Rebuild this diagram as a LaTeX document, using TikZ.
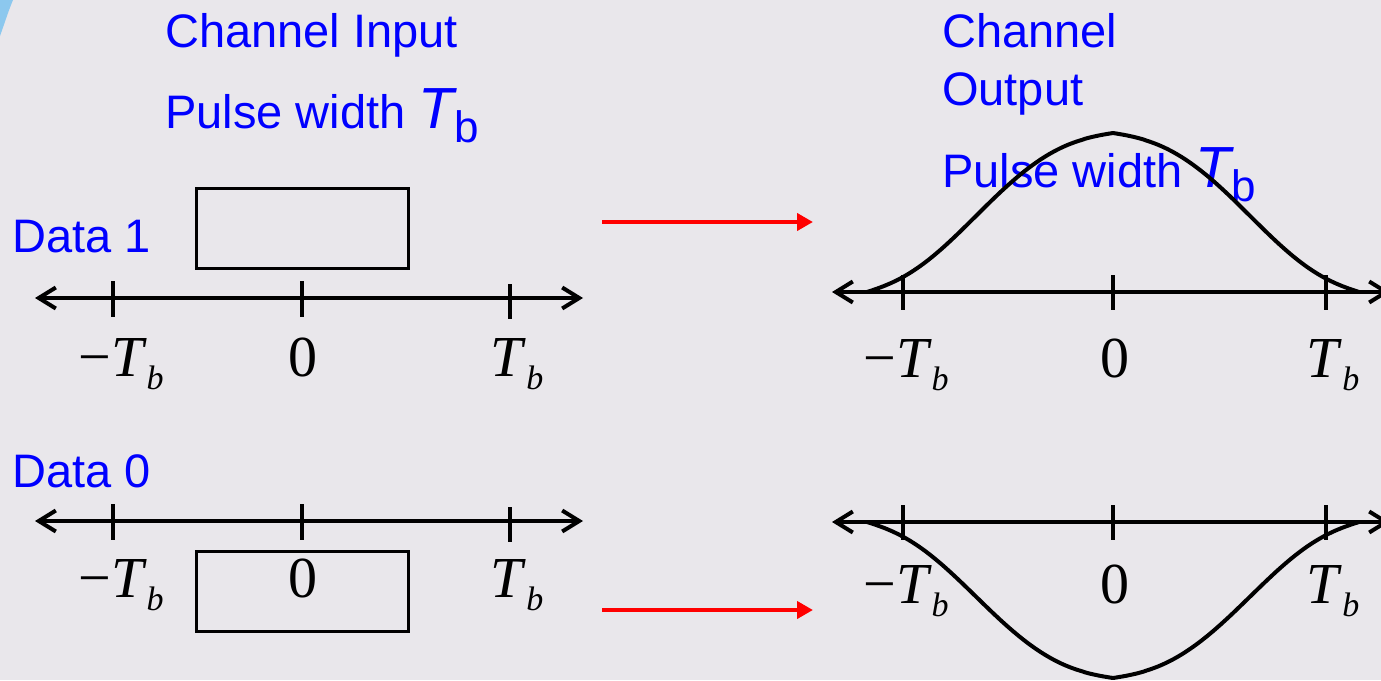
\documentclass[tikz,border=0pt]{standalone}
\usepackage{fontspec}
\setmainfont{Liberation Sans}
\newfontfamily\tms{Liberation Serif}
\usetikzlibrary{arrows.meta}
\definecolor{bg}{RGB}{233,231,235}
\definecolor{txtblue}{RGB}{0,0,255}
\definecolor{swoosh}{RGB}{140,200,238}
\newcommand{\myTb}{\textit{T}\raisebox{-0.23em}{\fontsize{34}{34}\selectfont\textit{b}}}
\newcommand{\mymTb}{−\myTb}
\newcommand{\blueTb}{{\fontsize{58}{60}\selectfont\itshape T}\raisebox{-14pt}{\fontsize{44}{50}\selectfont b}}
\def\pf{(0.5*(1+cos(180*pow(\u,1.15)))-0.25*\u*(1-\u)*(1-\u)*(1-\u)+0.5*\u*\u*\u*\u*\u*\u*(1-\u))}
\tikzset{
  bluetext/.style={text=txtblue, font=\fontsize{47}{56}\selectfont, anchor=base west, inner sep=0pt},
  axisline/.style={line width=4pt, {Straight Barb[length=17pt,width=21pt]}-{Straight Barb[length=17pt,width=21pt]}},
  tickline/.style={line width=4pt},
  pulsebox/.style={draw, line width=3pt, minimum width=212pt, minimum height=80pt, inner sep=0pt},
  wave/.style={line width=4pt, line join=round, line cap=round},
  redarrow/.style={draw=red, line width=4.5pt, -{Triangle[length=16pt,width=17pt]}},
  ticklabel/.style={font=\tms\fontsize{58}{60}\selectfont, anchor=base, inner sep=0pt},
}
\begin{document}
\begin{tikzpicture}[x=1pt,y=-1pt]
\useasboundingbox (0,0) rectangle (1381,680);
\clip (0,0) rectangle (1381,680);
\fill[bg] (0,0) rectangle (1381,680);
% swoosh
\fill[swoosh] (0,0) -- (13,0) .. controls (8,12) and (4,25) .. (0,36) -- cycle;

% texts
\node[bluetext] (cin) at (165,47) {Channel Input};
\node[bluetext] (pwl) at (165,128) {Pulse width \blueTb};
\node[bluetext] (cout1) at (942,47) {Channel};
\node[bluetext] (cout2) at (942,105) {Output};
\node[bluetext] (pwr) at (942,187) {Pulse width \blueTb};
\node[bluetext] (d1) at (12,252) {Data 1};
\node[bluetext] (d0) at (12,487) {Data 0};

% ---- top left
\coordinate (a1l) at (35,298); \coordinate (a1r) at (583,298);
\draw[axisline] (a1l) -- (a1r);
\draw[tickline] (113,281) -- (113,317);
\draw[tickline] (302,281) -- (302,317);
\draw[tickline] (510,284) -- (510,319);
\node[ticklabel] (l1a) at (121,376) {\mymTb};
\node[ticklabel] (l1b) at (303,376) {0};
\node[ticklabel] (l1c) at (517,376) {\myTb};
\node[pulsebox] (p1) at (302,228) {};

% ---- bottom left
\coordinate (a2l) at (35,521); \coordinate (a2r) at (583,521);
\draw[axisline] (a2l) -- (a2r);
\draw[tickline] (113,504) -- (113,540);
\draw[tickline] (302,504) -- (302,540);
\draw[tickline] (510,507) -- (510,542);
\node[ticklabel] (l2a) at (121,597) {\mymTb};
\node[ticklabel] (l2b) at (303,597) {0};
\node[ticklabel] (l2c) at (517,597) {\myTb};
\node[pulsebox] (p0) at (302,591) {};

% ---- red arrows
\coordinate (r1s) at (602,222); \coordinate (r1e) at (813,222);
\coordinate (r2s) at (602,610); \coordinate (r2e) at (813,610);
\draw[redarrow] (r1s) -- (r1e);
\draw[redarrow] (r2s) -- (r2e);

% ---- top right
\coordinate (a3l) at (832,292); \coordinate (a3r) at (1390,292);
\draw[axisline] (a3l) -- (a3r);
\draw[tickline] (903,275) -- (903,310);
\draw[tickline] (1113,275) -- (1113,310);
\draw[tickline] (1326,275) -- (1326,310);
\node[ticklabel] (l3a) at (906,377) {\mymTb};
\node[ticklabel] (l3b) at (1115,377) {0};
\node[ticklabel] (l3c) at (1333,377) {\myTb};
\draw[wave] plot[domain=1:0.001, samples=90, variable=\u] ({1113-246*\u},{292-159*\pf}) -- (1113,133)
  -- plot[domain=0.001:1, samples=90, variable=\u] ({1113+246*\u},{292-159*\pf});

% ---- bottom right
\coordinate (a4l) at (832,522); \coordinate (a4r) at (1390,522);
\draw[axisline] (a4l) -- (a4r);
\draw[tickline] (903,505) -- (903,540);
\draw[tickline] (1113,505) -- (1113,540);
\draw[tickline] (1326,505) -- (1326,540);
\node[ticklabel] (l4a) at (906,603) {\mymTb};
\node[ticklabel] (l4b) at (1115,603) {0};
\node[ticklabel] (l4c) at (1333,603) {\myTb};
\draw[wave] plot[domain=1:0.001, samples=90, variable=\u] ({1113-246*\u},{522+156*\pf}) -- (1113,678)
  -- plot[domain=0.001:1, samples=90, variable=\u] ({1113+246*\u},{522+156*\pf});
\end{tikzpicture}
\end{document}
